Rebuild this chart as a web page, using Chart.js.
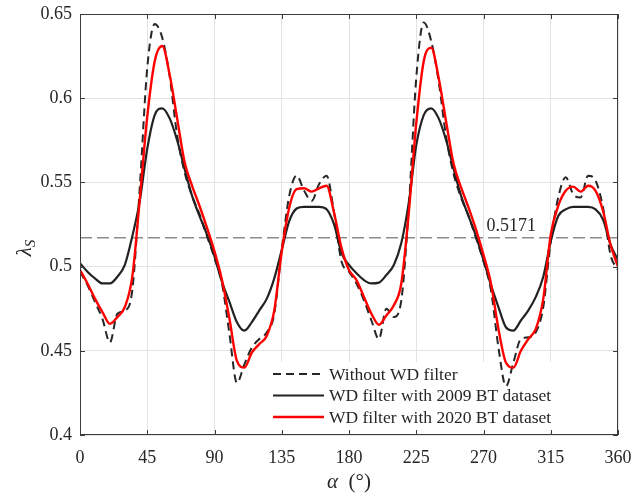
<!DOCTYPE html>
<html>
<head>
<meta charset="utf-8">
<script src="https://cdn.jsdelivr.net/npm/chart.js@4.4.1/dist/chart.umd.min.js"></script>
<style>
html, body { margin: 0; padding: 0; background: #fff; }
</style>
</head>
<body>
<canvas id="grafico" width="632" height="495"></canvas>
<script>
// angulos (graus) e valores
var angulos = [0, 5, 10, 15, 20, 25, 30, 35, 40, 45, 50, 55, 60, 65, 70, 75, 80, 85, 90,
    95, 100, 105, 110, 115, 120, 125, 130, 135, 140, 145, 150, 155, 160, 165, 170, 175, 180,
    185, 190, 195, 200, 205, 210, 215, 220, 225, 230, 235, 240, 245, 250, 255, 260, 265, 270,
    275, 280, 285, 290, 295, 300, 305, 310, 315, 320, 325, 330, 335, 340, 345, 350, 355, 360];

var semFiltro = [0.497, 0.489, 0.479, 0.469, 0.455, 0.472, 0.474, 0.486, 0.547, 0.618, 0.644, 0.636, 0.613,
    0.578, 0.556, 0.542, 0.531, 0.518, 0.505, 0.490, 0.460, 0.431, 0.442, 0.452, 0.457, 0.461,
    0.472, 0.510, 0.542, 0.554, 0.545, 0.539, 0.549, 0.554, 0.532, 0.503, 0.497,
    0.490, 0.480, 0.468, 0.457, 0.475, 0.470, 0.480, 0.535, 0.612, 0.645, 0.634, 0.610,
    0.577, 0.555, 0.541, 0.530, 0.517, 0.503, 0.486, 0.452, 0.429, 0.443, 0.457, 0.458, 0.461,
    0.476, 0.515, 0.541, 0.553, 0.543, 0.541, 0.554, 0.551, 0.535, 0.507, 0.498];

var filtro2009 = [0.502, 0.497, 0.493, 0.490, 0.490, 0.494, 0.501, 0.518, 0.539, 0.570, 0.590, 0.594, 0.588,
    0.575, 0.558, 0.542, 0.530, 0.519, 0.506, 0.491, 0.479, 0.467, 0.462, 0.467, 0.474, 0.481,
    0.493, 0.510, 0.527, 0.5345, 0.5355, 0.5355, 0.5355, 0.534, 0.525, 0.508, 0.501,
    0.496, 0.492, 0.490, 0.4905, 0.495, 0.501, 0.514, 0.538, 0.572, 0.590, 0.594, 0.588,
    0.575, 0.558, 0.542, 0.530, 0.518, 0.504, 0.489, 0.476, 0.464, 0.462, 0.468, 0.474, 0.482,
    0.494, 0.515, 0.530, 0.534, 0.5355, 0.5355, 0.5355, 0.534, 0.528, 0.513, 0.504];

var filtro2020 = [0.498, 0.490, 0.481, 0.473, 0.466, 0.470, 0.476, 0.494, 0.540, 0.589, 0.622, 0.631, 0.614,
    0.588, 0.562, 0.548, 0.536, 0.523, 0.509, 0.492, 0.469, 0.444, 0.440, 0.449, 0.454, 0.459,
    0.474, 0.509, 0.535, 0.546, 0.5465, 0.5445, 0.5465, 0.548, 0.532, 0.511, 0.498,
    0.492, 0.482, 0.472, 0.4655, 0.471, 0.477, 0.490, 0.532, 0.585, 0.622, 0.630, 0.612,
    0.586, 0.561, 0.547, 0.535, 0.522, 0.507, 0.490, 0.463, 0.443, 0.440, 0.450, 0.457, 0.463,
    0.481, 0.519, 0.536, 0.545, 0.5475, 0.5445, 0.548, 0.545, 0.533, 0.513, 0.500];

var ticksX = [0, 45, 90, 135, 180, 225, 270, 315, 360];
var ticksY = [0.4, 0.45, 0.5, 0.55, 0.6, 0.65];
var nivelRef = 0.5171;

var rotulos = ['Without WD filter', 'WD filter with 2009 BT dataset', 'WD filter with 2020 BT dataset'];

function pontos(valores) {
    return angulos.map(function (a, i) { return { x: a, y: valores[i] }; });
}

var corTexto = '#262626';
var fonte = '"Liberation Serif", "Times New Roman", serif';

// legenda (fica por baixo das curvas)
var legenda = {
    id: 'legenda',
    beforeDatasetsDraw: function (chart) {
        var ctx = chart.ctx;
        var a = chart.chartArea;
        ctx.save();
        var topo = a.bottom - 73;
        ctx.fillStyle = '#fff';
        ctx.fillRect(267, topo, 296, 70);
        chart.data.datasets.forEach(function (ds, i) {
            if (!ds.label) return;
            var y = topo + 12 + i * 21.5;
            ctx.beginPath();
            ctx.strokeStyle = ds.borderColor;
            ctx.lineWidth = ds.borderWidth;
            ctx.setLineDash(ds.borderDash || []);
            ctx.moveTo(273, y);
            ctx.lineTo(324, y);
            ctx.stroke();
            ctx.setLineDash([]);
            ctx.fillStyle = corTexto;
            ctx.font = '17.5px ' + fonte;
            ctx.textBaseline = 'middle';
            ctx.textAlign = 'left';
            ctx.fillText(ds.label, 329, y + 1);
        });
        ctx.restore();
    }
};

// moldura, ticks internos e rotulos dos eixos
var extras = {
    id: 'extras',
    afterDatasetsDraw: function (chart) {
        var ctx = chart.ctx;
        var a = chart.chartArea;
        var sx = chart.scales.x;
        var sy = chart.scales.y;
        ctx.save();

        // texto da linha de referencia
        ctx.font = '18px ' + fonte;
        ctx.fillStyle = corTexto;
        ctx.textAlign = 'left';
        ctx.textBaseline = 'alphabetic';
        ctx.fillText(nivelRef.toFixed(4), sx.getPixelForValue(270) + 3, sy.getPixelForValue(nivelRef) - 7);

        // moldura
        ctx.strokeStyle = '#3c3c3c';
        ctx.lineWidth = 1;
        ctx.strokeRect(a.left + 0.5, a.top + 0.5, a.right - a.left - 1, a.bottom - a.top - 1);
        ctx.beginPath();
        ticksX.forEach(function (v) {
            var px = Math.round(sx.getPixelForValue(v)) + 0.5;
            ctx.moveTo(px, a.bottom);
            ctx.lineTo(px, a.bottom - 5);
            ctx.moveTo(px, a.top);
            ctx.lineTo(px, a.top + 5);
        });
        ticksY.forEach(function (v) {
            var py = Math.round(sy.getPixelForValue(v)) + 0.5;
            ctx.moveTo(a.left, py);
            ctx.lineTo(a.left + 5, py);
            ctx.moveTo(a.right, py);
            ctx.lineTo(a.right - 5, py);
        });
        ctx.stroke();

        // titulo do eixo x: alpha (graus)
        ctx.fillStyle = corTexto;
        ctx.textBaseline = 'alphabetic';
        var fAlfa = 'italic 21px ' + fonte;
        var fResto = '21px ' + fonte;
        ctx.font = fAlfa;
        var w1 = ctx.measureText('\u03b1').width;
        ctx.font = fResto;
        var w2 = ctx.measureText('  (\u00b0)').width;
        var x0 = (a.left + a.right) / 2 - (w1 + w2) / 2;
        ctx.font = fAlfa;
        ctx.fillText('\u03b1', x0, 488);
        ctx.font = fResto;
        ctx.fillText('  (\u00b0)', x0 + w1, 488);

        // titulo do eixo y: lambda_S
        ctx.translate(31, 248);
        ctx.rotate(-Math.PI / 2);
        ctx.font = 'italic 21px ' + fonte;
        var wl = ctx.measureText('\u03bb').width;
        ctx.font = 'italic 15px ' + fonte;
        var ws = ctx.measureText('S').width;
        var xs = -(wl + ws) / 2;
        ctx.font = 'italic 21px ' + fonte;
        ctx.fillText('\u03bb', xs, 0);
        ctx.font = 'italic 15px ' + fonte;
        ctx.fillText('S', xs + wl, 4);

        ctx.restore();
    }
};

var ctx = document.getElementById('grafico').getContext('2d');
var grafico = new Chart(ctx, {
    type: 'line',
    data: {
        datasets: [{
            label: rotulos[0],
            data: pontos(semFiltro),
            borderColor: '#262626',
            borderWidth: 2,
            borderDash: [8, 5],
            order: 3
        }, {
            label: rotulos[1],
            data: pontos(filtro2009),
            borderColor: '#222222',
            borderWidth: 2.2,
            order: 2
        }, {
            label: rotulos[2],
            data: pontos(filtro2020),
            borderColor: '#ff0000',
            borderWidth: 2.4,
            order: 1
        }, {
            label: '',
            data: [{ x: 0, y: nivelRef }, { x: 360, y: nivelRef }],
            borderColor: '#8c8c8c',
            borderWidth: 1.5,
            borderDash: [12, 5],
            order: 4
        }]
    },
    options: {
        responsive: false,
        animation: false,
        devicePixelRatio: 1,
        layout: { padding: { top: 14, right: 14, left: 0, bottom: 0 } },
        elements: {
            point: { radius: 0 },
            line: { cubicInterpolationMode: 'monotone', fill: false }
        },
        plugins: {
            legend: { display: false },
            tooltip: { enabled: false }
        },
        scales: {
            x: {
                type: 'linear',
                min: 0,
                max: 360,
                afterBuildTicks: function (scale) {
                    scale.ticks = ticksX.map(function (v) { return { value: v }; });
                },
                afterFit: function (scale) {
                    scale.height = 60;
                    scale.paddingLeft = 0;
                    scale.paddingRight = 0;
                },
                grid: { color: '#e3e3e3', drawTicks: false },
                border: { display: false },
                ticks: {
                    padding: 12,
                    color: corTexto,
                    font: { family: fonte, size: 18 },
                    maxRotation: 0,
                    callback: function (v) { return String(v); }
                }
            },
            y: {
                type: 'linear',
                min: 0.4,
                max: 0.65,
                afterBuildTicks: function (scale) {
                    scale.ticks = ticksY.map(function (v) { return { value: v }; });
                },
                afterFit: function (scale) {
                    scale.width = 80;
                    scale.paddingTop = 0;
                    scale.paddingBottom = 0;
                },
                grid: { color: '#e3e3e3', drawTicks: false },
                border: { display: false },
                ticks: {
                    padding: 8,
                    color: corTexto,
                    font: { family: fonte, size: 18 },
                    callback: function (v) { return String(+v.toFixed(2)); }
                }
            }
        }
    },
    plugins: [legenda, extras]
});
</script>
</body>
</html>
